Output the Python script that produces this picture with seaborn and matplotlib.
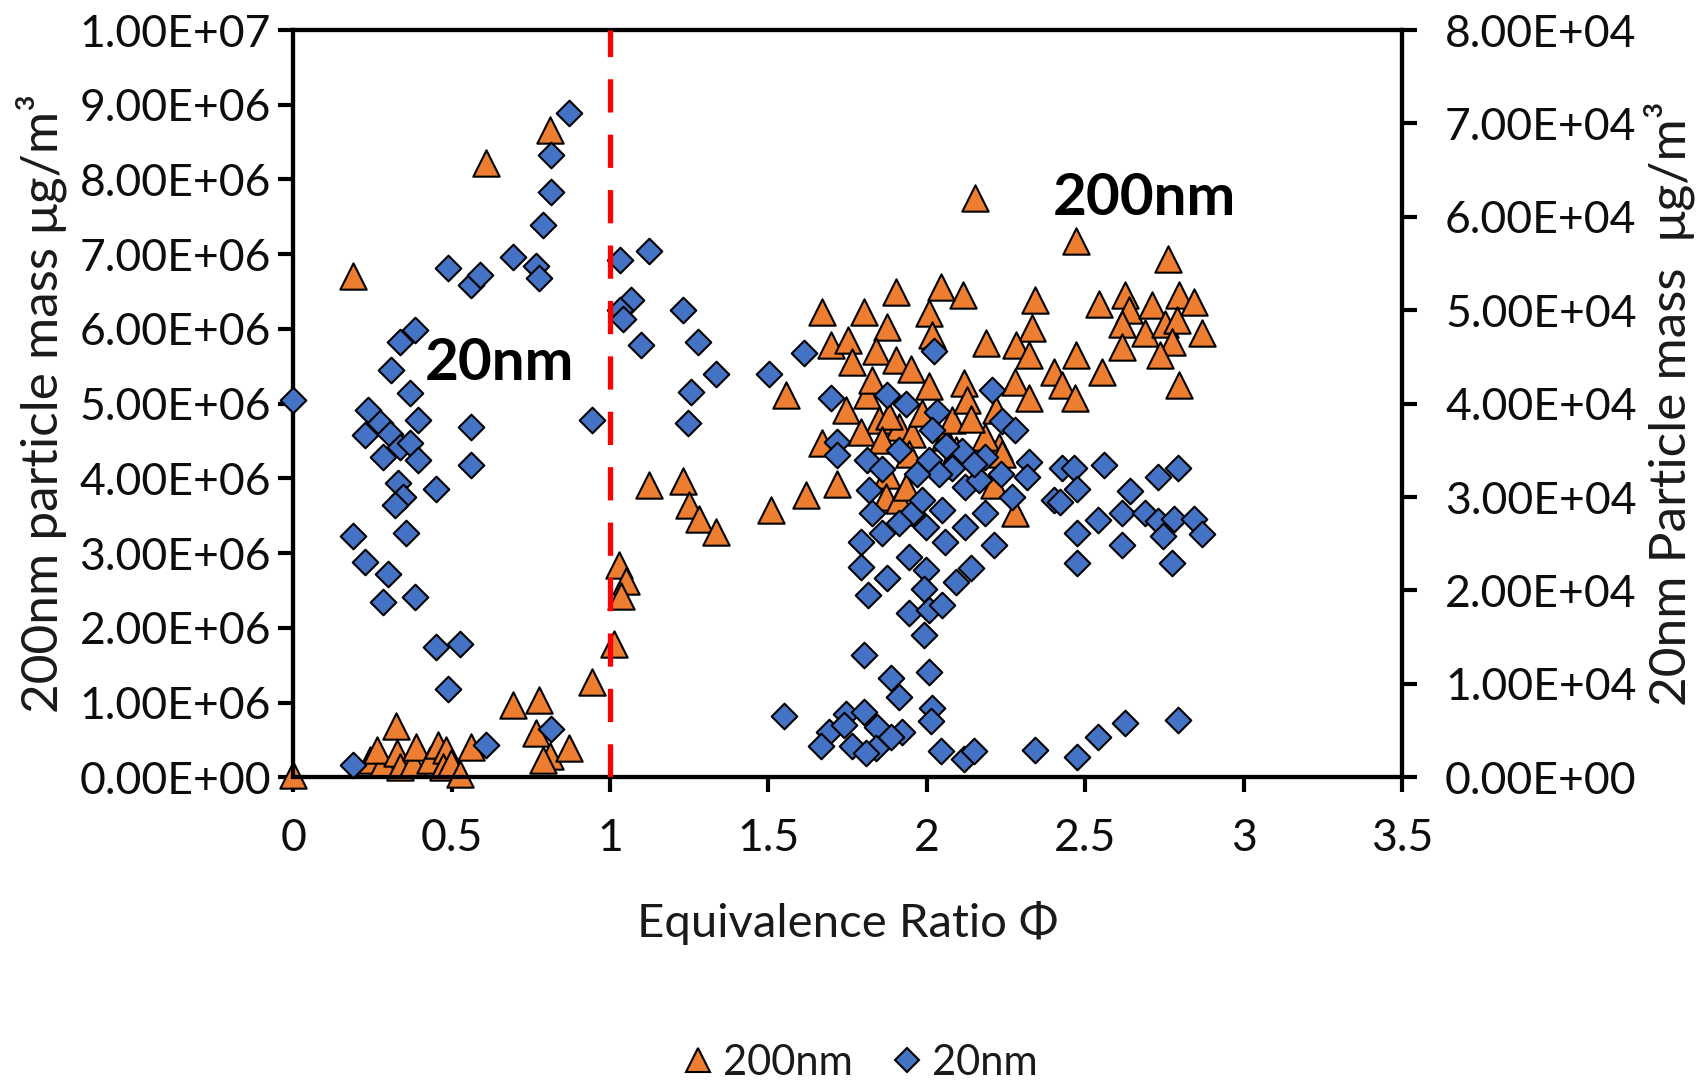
import numpy as np
import pandas as pd
import matplotlib
matplotlib.use("Agg")
import matplotlib.pyplot as plt
from matplotlib.lines import Line2D
import seaborn as sns

# ---------------- data ----------------
# 200 nm particle mass (left axis), values in 1e6 ug/m3
phi_200 = [0.00, 0.19, 0.61, 0.81,
           0.323, 0.242, 0.284, 0.263, 0.326, 0.336, 0.378, 0.389, 0.431, 0.457, 0.483, 0.473, 0.499, 0.525, 0.562,
           0.693, 0.777, 0.767, 0.809, 0.788, 0.872, 0.944, 1.014, 1.027, 1.05, 1.035,
           1.124, 1.229, 1.250, 1.282, 1.335, 1.508, 1.555, 1.618,
           1.902, 1.670, 1.802, 1.875, 2.006, 1.697, 1.750, 1.840, 1.765, 1.902, 1.949, 2.017, 2.007, 1.812,
           1.745, 1.828, 1.849, 1.791, 1.912, 1.954, 1.881, 1.986, 2.059, 1.670, 1.718, 1.875, 1.870, 1.912,
           1.933, 2.227, 2.212, 2.280, 2.080, 1.944, 1.860, 2.185, 2.091, 2.238,
           2.152, 2.472, 2.114, 2.044, 2.343, 2.545, 2.332, 2.187, 2.282, 2.322, 2.472, 2.553, 2.401, 2.427,
           2.280, 2.117, 2.322, 2.469, 2.127, 2.217, 2.138,
           2.760, 2.627, 2.795, 2.842, 2.637, 2.711, 2.616, 2.690, 2.753, 2.790, 2.774, 2.868, 2.616, 2.737, 2.795]
mass_200_e6 = [0.03, 6.71, 8.22, 8.66,
               0.68, 0.23, 0.19, 0.37, 0.32, 0.14, 0.19, 0.41, 0.23, 0.43, 0.37, 0.14, 0.19, 0.05, 0.41,
               0.97, 1.03, 0.59, 0.28, 0.23, 0.39, 1.28, 1.79, 2.84, 2.62, 2.42,
               3.91, 3.96, 3.64, 3.45, 3.28, 3.58, 5.11, 3.78,
               6.50, 6.23, 6.23, 6.03, 6.21, 5.78, 5.85, 5.70, 5.56, 5.58, 5.47, 5.92, 5.23, 5.12,
               4.92, 5.32, 4.78, 4.62, 4.69, 4.60, 4.83, 4.87, 4.56, 4.47, 3.93, 4.04, 3.75, 3.71,
               3.89, 4.42, 3.91, 3.53, 4.78, 4.33, 4.51, 4.56, 4.38, 4.33,
               7.75, 7.17, 6.45, 6.56, 6.39, 6.34, 6.01, 5.81, 5.78, 5.65, 5.65, 5.43, 5.43, 5.25,
               5.29, 5.27, 5.07, 5.07, 5.05, 4.91, 4.80,
               6.94, 6.45, 6.45, 6.36, 6.25, 6.32, 6.07, 5.94, 6.07, 6.12, 5.83, 5.94, 5.76, 5.65, 5.25]

# 20 nm particle mass (right axis), values in 1e4 ug/m3
phi_20 = [0.872, 0.814, 0.814, 0.788, 0.693, 0.767, 0.777, 0.489, 0.562, 0.588, 0.384, 0.336, 0.310,
          0.0, 0.368, 0.236, 0.273, 0.226, 0.305, 0.284, 0.336, 0.368, 0.394, 0.394, 0.562, 0.562, 0.331,
          0.347, 0.320, 0.452, 0.943, 0.357, 0.189, 0.226, 0.299, 0.284, 0.383, 0.452, 0.525, 0.489, 0.814,
          0.609, 0.189,
          1.030, 1.124, 1.066, 1.03, 1.04, 1.229, 1.098, 1.277, 1.335, 1.256, 1.245, 1.503, 1.55,
          1.613, 2.022, 1.697, 1.875, 1.933, 2.033, 2.017, 2.206, 2.238, 2.280, 1.718, 1.718, 1.812, 1.912,
          2.006, 2.112, 2.185, 2.080, 2.038, 2.122, 2.164, 2.233, 2.322, 2.317, 2.401, 2.269, 1.818, 1.828,
          1.954, 1.986, 2.049, 1.912, 1.996, 2.122, 2.185, 1.860, 2.06, 1.97, 2.15, 1.86,
          1.791, 2.059, 2.212, 1.791, 1.875, 1.944, 1.996, 2.138, 2.091, 1.813, 1.991, 1.944, 2.007, 2.049,
          1.991, 1.802, 2.007, 1.886, 1.912, 2.017, 2.012, 1.744, 1.802, 1.691, 1.739, 1.844, 1.923, 1.665,
          1.765, 1.839, 1.808, 1.886, 2.044, 2.117, 2.149, 2.343,
          2.427, 2.464, 2.558, 2.474, 2.42, 2.731, 2.794, 2.642, 2.616, 2.542, 2.689, 2.731, 2.779, 2.842,
          2.868, 2.747, 2.474, 2.616, 2.474, 2.773, 2.474, 2.542, 2.626, 2.794]
mass_20_e4 = [7.11, 6.66, 6.27, 5.91, 5.57, 5.47, 5.34, 5.45, 5.27, 5.38, 4.79, 4.66, 4.36,
              4.04, 4.11, 3.93, 3.79, 3.66, 3.68, 3.43, 3.54, 3.58, 3.83, 3.40, 3.75, 3.34, 3.15,
              3.00, 2.92, 3.09, 3.83, 2.61, 2.58, 2.31, 2.18, 1.88, 1.93, 1.40, 1.43, 0.95, 0.52,
              0.35, 0.13,
              5.54, 5.63, 5.11, 5.00, 4.91, 5.00, 4.63, 4.66, 4.32, 4.13, 3.79, 4.32, 0.66,
              4.54, 4.56, 4.06, 4.09, 4.00, 3.91, 3.72, 4.15, 3.81, 3.72, 3.59, 3.45, 3.40, 3.50,
              3.40, 3.49, 3.43, 3.31, 3.25, 3.11, 3.18, 3.25, 3.38, 3.22, 2.97, 3.00, 3.08, 2.83,
              2.83, 2.97, 2.86, 2.72, 2.68, 2.68, 2.83, 2.61, 3.55, 3.25, 3.35, 3.30,
              2.52, 2.52, 2.49, 2.25, 2.13, 2.36, 2.22, 2.24, 2.09, 1.95, 2.02, 1.76, 1.79, 1.84,
              1.52, 1.31, 1.13, 1.06, 0.86, 0.74, 0.60, 0.68, 0.70, 0.49, 0.56, 0.54, 0.49, 0.33,
              0.33, 0.31, 0.26, 0.43, 0.28, 0.20, 0.28, 0.29,
              3.31, 3.31, 3.34, 3.09, 2.95, 3.22, 3.31, 3.06, 2.83, 2.75, 2.83, 2.74, 2.76, 2.77,
              2.60, 2.58, 2.61, 2.49, 2.29, 2.29, 0.22, 0.43, 0.58, 0.61]

x_ticks = [0, 0.5, 1, 1.5, 2, 2.5, 3, 3.5]
x_tick_labels = ["0", "0.5", "1", "1.5", "2", "2.5", "3", "3.5"]
left_ticks = [0, 1e6, 2e6, 3e6, 4e6, 5e6, 6e6, 7e6, 8e6, 9e6, 1e7]
right_ticks = [0, 1e4, 2e4, 3e4, 4e4, 5e4, 6e4, 7e4, 8e4]
stoich_phi = 1.0

df200 = pd.DataFrame({"phi": phi_200, "mass": np.array(mass_200_e6) * 1e6})
df20 = pd.DataFrame({"phi": phi_20, "mass": np.array(mass_20_e4) * 1e4})

# ---------------- style ----------------
sns.set_theme(style="white")
plt.rcParams["font.family"] = ["Lato", "DejaVu Sans"]
orange = "#ED7D31"
blue = "#4472C4"
tick_col = "#0d0d0d"
label_col = "#1a1a1a"
FS_TICK = 32
FS_YLAB = 37
FS_XLAB = 34
FS_LEG = 30

fig = plt.figure(figsize=(17.01, 10.80), dpi=100)
ax = fig.add_axes([0.1724, 0.2803, 0.6518, 0.6919])
ax2 = ax.twinx()

sns.scatterplot(data=df200, x="phi", y="mass", ax=ax, marker="^", color=orange,
                s=360, edgecolor="black", linewidth=1.5, clip_on=False, legend=False, zorder=3)
sns.scatterplot(data=df20, x="phi", y="mass", ax=ax2, marker="D", color=blue,
                s=170, edgecolor="black", linewidth=1.5, clip_on=False, legend=False, zorder=3)

ax2.axvline(stoich_phi, ymin=0, ymax=1, color="#FF0000", lw=3.8, dashes=(6.3, 4.2), zorder=5)

ax.set_xlim(0, 3.5)
ax.set_ylim(0, 1e7)
ax2.set_ylim(0, 8e4)
ax.set_xticks(x_ticks)
ax.set_xticklabels(x_tick_labels)
ax.set_yticks(left_ticks)
ax.set_yticklabels([f"{v:.2E}" for v in left_ticks])
ax2.set_yticks(right_ticks)
ax2.set_yticklabels([f"{v:.2E}" for v in right_ticks])

for a in (ax, ax2):
    for sp in a.spines.values():
        sp.set_color("black")
        sp.set_linewidth(3)
        sp.set_visible(True)
    a.set_xlabel("")
    a.set_ylabel("")

ax.tick_params(axis="y", which="major", direction="out", length=11, width=3, color="black",
               labelsize=FS_TICK, labelcolor=tick_col, pad=5, left=True)
ax.tick_params(axis="x", which="major", direction="out", length=11, width=3, color="black",
               labelsize=FS_TICK, labelcolor=tick_col, pad=18, bottom=True)
ax2.tick_params(axis="y", which="major", direction="out", length=11, width=3, color="black",
                labelsize=FS_TICK, labelcolor=tick_col, pad=20, right=True)

ax.set_xlabel("Equivalence Ratio Φ", fontsize=FS_XLAB, color=label_col)
ax.xaxis.set_label_coords(0.5, -0.195)
ax.xaxis.label.set_va("center")
ax.set_ylabel("200nm particle mass μg/m³", fontsize=FS_YLAB, color=label_col, va="center")
ax.yaxis.set_label_coords(-0.227, 0.5)
ax2.set_ylabel("20nm Particle mass  μg/m³", fontsize=FS_YLAB, color=label_col, va="center", rotation=90)
ax2.yaxis.set_label_coords(1.241, 0.5)

ax.text(0.651, 5.54e6, "20nm", fontsize=42, fontweight="bold", color="black",
        ha="center", va="center", zorder=6)
ax.text(2.687, 7.75e6, "200nm", fontsize=42, fontweight="bold", color="black",
        ha="center", va="center", zorder=6)

handles = [Line2D([], [], ls="none", marker="^", markersize=17, markerfacecolor=orange,
                  markeredgecolor="black", markeredgewidth=1.5),
           Line2D([], [], ls="none", marker="D", markersize=12, markerfacecolor=blue,
                  markeredgecolor="black", markeredgewidth=1.5)]
leg = fig.legend(handles, ["200nm", "20nm"], loc="center", bbox_to_anchor=(0.504, 0.016),
                 ncol=2, frameon=False, fontsize=FS_LEG, handletextpad=0.1, columnspacing=0.8,
                 handlelength=1.0, borderaxespad=0, borderpad=0)
for t in leg.get_texts():
    t.set_color(label_col)

fig.savefig("out.png", dpi=100, facecolor="white")
